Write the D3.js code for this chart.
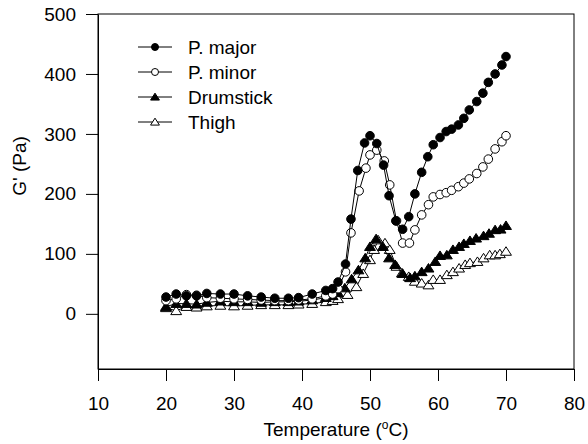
<!DOCTYPE html>
<html>
<head>
<meta charset="utf-8">
<script src="https://cdn.jsdelivr.net/npm/d3@7"></script>
<style>
  body { margin: 0; background: #fff; }
  svg { display: block; }
  text { font-family: Arial, "Liberation Sans", sans-serif; fill: #000; }
</style>
</head>
<body>
<svg id="chart" width="588" height="444"></svg>
<script>
// Storage modulus G' (Pa) versus temperature (°C) for four chicken muscle types
const tempMajor = [20, 21.5, 23, 24.5, 26, 28, 30, 32, 34, 36, 38, 39.5, 41.5, 43.5, 44.5, 45.3, 46.4, 47.2, 48.2, 49.2, 50, 51, 52, 52.8, 53.8, 54.8, 55.7, 56.6, 57.6, 58.5, 59.3, 60.3, 61.2, 62, 63, 63.8, 64.6, 65.7, 66.6, 67.4, 68.4, 69.4, 70];
const gMajor    = [28, 33, 30, 30, 34, 33, 33, 30, 28, 26, 26, 27, 33, 39, 42, 53, 83, 158, 239, 285, 297, 284, 248, 197, 155, 141, 162, 200, 236, 262, 282, 294, 304, 308, 315, 326, 340, 354, 368, 386, 400, 415, 429];

const tempMinor = [20, 21.5, 23, 24.5, 26, 28, 30, 32, 34, 36, 38, 39.5, 41.5, 43.5, 44.5, 45.3, 46.4, 47.2, 48.4, 49.4, 50, 51, 52.1, 52.9, 53.9, 54.8, 55.8, 56.6, 57.6, 58.6, 59.3, 60.3, 61.2, 62, 63, 63.8, 64.6, 65.7, 66.6, 67.4, 68.4, 69.4, 70];
const gMinor    = [22, 25, 32, 31, 27, 26, 25, 24, 23, 22, 22, 23, 25, 30, 33, 42, 70, 135, 205, 243, 265, 273, 255, 215, 155, 118, 118, 140, 165, 182, 195, 199, 202, 206, 212, 218, 225, 234, 245, 258, 275, 287, 297];

const tempDrum = [20, 21.5, 23, 24.5, 26, 28, 30, 32, 34, 36, 38, 39.5, 41.5, 43.5, 44.5, 45.3, 46.3, 47.3, 48.3, 49.3, 50, 50.9, 51.9, 52.8, 53.7, 54.8, 55.9, 56.6, 57.6, 58.6, 59.6, 60.3, 61.3, 62.2, 63.1, 63.8, 64.7, 65.6, 66.7, 67.5, 68.4, 69.2, 70];
const gDrum    = [12, 17, 17, 16, 19, 21, 20, 20, 19, 20, 20, 21, 23, 27, 30, 35, 43, 58, 73, 93, 112, 125, 112, 93, 82, 67, 60, 63, 70, 76, 87, 97, 98, 107, 112, 117, 122, 126, 130, 134, 140, 141, 147];

const tempThigh = [20, 21.5, 23, 24.5, 26, 28, 30, 32, 34, 36, 38, 39.5, 41.5, 43.5, 44.5, 45.3, 46.7, 48, 49, 50, 50.6, 51.2, 52.2, 52.9, 53.9, 54.7, 55.7, 56.6, 57.6, 58.6, 59.3, 60.3, 61.3, 62.2, 63.1, 64, 64.7, 65.8, 66.7, 67.6, 68.4, 69.1, 70];
const gThigh    = [10, 5, 12, 11, 13, 14, 13, 14, 15, 15, 15, 16, 17, 20, 22, 25, 32, 45, 67, 90, 107, 123, 118, 107, 79, 68, 62, 54, 51, 48, 57, 57, 65, 70, 76, 82, 85, 87, 93, 98, 98, 100, 104];

const seriesNames = ["P. major", "P. minor", "Drumstick", "Thigh"];
const xTicks = [10, 20, 30, 40, 50, 60, 70, 80];
const yTicks = [0, 100, 200, 300, 400, 500];

const FONT = 19;
const svg = d3.select("#chart");
const plotL = 98, plotR = 574, plotT = 14, plotB = 369;

const x = d3.scaleLinear().domain([10, 80]).range([plotL, plotR]);
const y = d3.scaleLinear().domain([-92, 500]).range([plotB, plotT]);

// plot frame
svg.append("rect")
  .attr("x", plotL).attr("y", plotT)
  .attr("width", plotR - plotL).attr("height", plotB - plotT)
  .attr("fill", "none").attr("stroke", "#000").attr("stroke-width", 1);

const xAxis = svg.append("g")
  .attr("transform", `translate(0,${plotB})`)
  .call(d3.axisBottom(x).tickValues(xTicks).tickSize(12).tickSizeOuter(0).tickPadding(16));
const yAxis = svg.append("g")
  .attr("transform", `translate(${plotL},0)`)
  .call(d3.axisLeft(y).tickValues(yTicks).tickSize(12).tickSizeOuter(0).tickPadding(10));
[xAxis, yAxis].forEach(g => {
  g.select(".domain").attr("stroke", "#000");
  g.selectAll(".tick line").attr("stroke", "#000");
  g.selectAll(".tick text").attr("font-size", FONT).attr("font-family", "Arial, 'Liberation Sans', sans-serif");
});

// axis titles
const xt = svg.append("text")
  .attr("x", (plotL + plotR) / 2).attr("y", 436)
  .attr("text-anchor", "middle").attr("font-size", FONT);
xt.append("tspan").text("Temperature (");
xt.append("tspan").attr("font-size", 12).attr("dy", -7).text("o");
xt.append("tspan").attr("dy", 7).text("C)");

svg.append("text")
  .attr("transform", "translate(26,166) rotate(-90)")
  .attr("text-anchor", "middle").attr("font-size", FONT)
  .text("G' (Pa)");

const line = d3.line().x(d => x(d[0])).y(d => y(d[1]));
const zip = (a, b) => a.map((t, i) => [t, b[i]]);

const series = [
  { name: seriesNames[0], data: zip(tempMajor, gMajor), shape: "circle", fill: "#000" },
  { name: seriesNames[1], data: zip(tempMinor, gMinor), shape: "circle", fill: "#fff" },
  { name: seriesNames[2], data: zip(tempDrum, gDrum), shape: "triangle", fill: "#000" },
  { name: seriesNames[3], data: zip(tempThigh, gThigh), shape: "triangle", fill: "#fff" }
];

function marker(sel, s, r) {
  if (s.shape === "circle") {
    sel.append("circle").attr("r", r);
  } else {
    const h = r * 1.1;
    sel.append("path").attr("d", `M0,${-h} L${h * 1.15},${h * 0.8} L${-h * 1.15},${h * 0.8} Z`);
  }
  sel.selectAll("circle,path").attr("fill", s.fill).attr("stroke", "#000").attr("stroke-width", 1);
}

// draw back to front so P. major sits on top
series.slice().reverse().forEach(s => {
  const g = svg.append("g");
  g.append("path").datum(s.data)
    .attr("d", line).attr("fill", "none").attr("stroke", "#000").attr("stroke-width", 1);
  g.selectAll("g.pt").data(s.data).join("g")
    .attr("class", "pt")
    .attr("transform", d => `translate(${x(d[0])},${y(d[1])})`)
    .each(function () { marker(d3.select(this), s, 4.3); });
});

// legend
const legend = svg.append("g").attr("transform", "translate(138,47)");
series.forEach((s, i) => {
  const row = legend.append("g").attr("transform", `translate(0,${i * 25})`);
  row.append("line").attr("x1", 0).attr("x2", 34).attr("stroke", "#000").attr("stroke-width", 1);
  const m = row.append("g").attr("transform", "translate(17,0)");
  marker(m, s, 3.5);
  row.append("text").attr("x", 50).attr("y", 0).attr("dy", "0.36em")
    .attr("font-size", FONT).text(s.name);
});
</script>
</body>
</html>
